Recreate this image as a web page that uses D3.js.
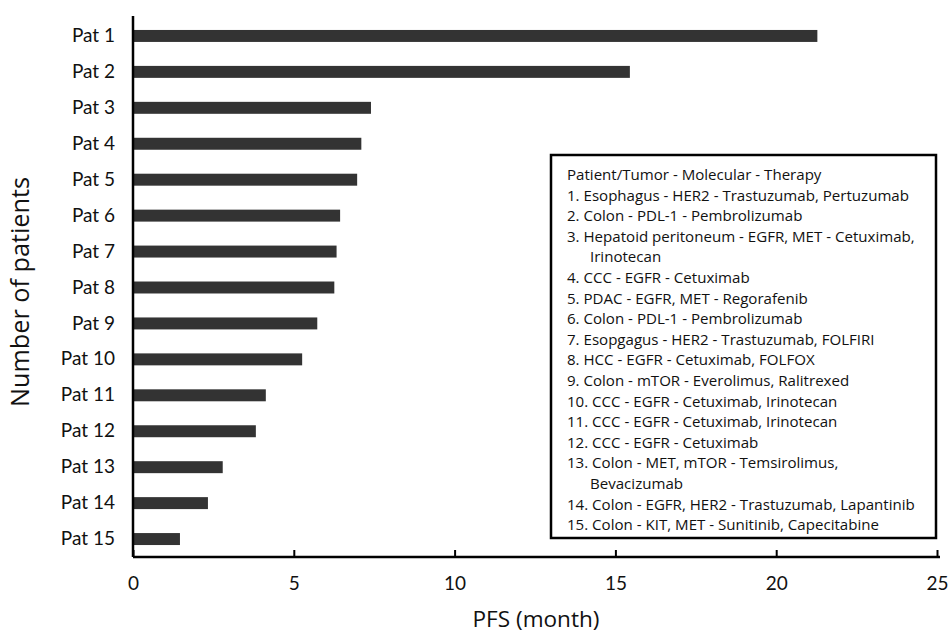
<!DOCTYPE html>
<html>
<head>
<meta charset="utf-8">
<script src="https://cdn.jsdelivr.net/npm/d3@7"></script>
<style>
  html, body { margin: 0; padding: 0; background: #fff; }
  svg { display: block; }
  text { fill: #111; }
</style>
</head>
<body>
<svg id="chart" width="951" height="633"></svg>
<script>
const patients = ["Pat 1","Pat 2","Pat 3","Pat 4","Pat 5","Pat 6","Pat 7","Pat 8","Pat 9","Pat 10","Pat 11","Pat 12","Pat 13","Pat 14","Pat 15"];
const pfs = [21.28, 15.45, 7.40, 7.10, 6.97, 6.44, 6.33, 6.26, 5.73, 5.26, 4.13, 3.82, 2.79, 2.33, 1.46];
const xTicks = [0, 5, 10, 15, 20, 25];
const legendTitle = "Patient/Tumor - Molecular - Therapy";
const legendLines = [
  ["1. Esophagus - HER2 - Trastuzumab, Pertuzumab"],
  ["2. Colon - PDL-1 - Pembrolizumab"],
  ["3. Hepatoid peritoneum - EGFR, MET - Cetuximab,", "Irinotecan"],
  ["4. CCC - EGFR - Cetuximab"],
  ["5. PDAC - EGFR, MET - Regorafenib"],
  ["6. Colon - PDL-1 - Pembrolizumab"],
  ["7. Esopgagus - HER2 - Trastuzumab, FOLFIRI"],
  ["8. HCC - EGFR - Cetuximab, FOLFOX"],
  ["9. Colon - mTOR - Everolimus, Ralitrexed"],
  ["10. CCC - EGFR - Cetuximab, Irinotecan"],
  ["11. CCC - EGFR - Cetuximab, Irinotecan"],
  ["12. CCC - EGFR - Cetuximab"],
  ["13. Colon - MET, mTOR - Temsirolimus,", "Bevacizumab"],
  ["14. Colon - EGFR, HER2 - Trastuzumab, Lapantinib"],
  ["15. Colon - KIT, MET - Sunitinib, Capecitabine"]
];
const xTitle = "PFS (month)";
const yTitle = "Number of patients";

const svg = d3.select("#chart");
const mLeft = 133, mRight = 937, mTop = 18, mBottom = 557;
const LATO = "Lato, sans-serif";
const OPEN = "'Open Sans', sans-serif";

function fitFont(sel, base, target) {
  const w = sel.node().getComputedTextLength();
  sel.style("font-size", (base * target / w) + "px");
}

const x = d3.scaleLinear().domain([0, 25]).range([mLeft, mRight]);
const y = d3.scaleBand().domain(patients).range([mTop, mBottom]).paddingInner(0.667).paddingOuter(0.333);

// bars
svg.append("g").selectAll("rect").data(patients).join("rect")
  .attr("x", x(0))
  .attr("y", d => y(d))
  .attr("width", (d, i) => x(pfs[i]) - x(0))
  .attr("height", y.bandwidth())
  .attr("fill", "#333333");

// x axis
const xAxis = d3.axisBottom(x).tickValues(xTicks).tickSizeInner(-7).tickSizeOuter(0).tickPadding(20);
const gx = svg.append("g").attr("transform", `translate(0,${mBottom})`).call(xAxis);
gx.select(".domain").attr("stroke", "#000").attr("stroke-width", 2.5).attr("d", `M${mLeft},0H${mRight + 3}`);
gx.selectAll(".tick line").attr("stroke", "#000").attr("stroke-width", 2);
gx.selectAll(".tick text").style("font-size", "19px").style("font-family", LATO).attr("fill", "#111");

// y axis
const yAxis = d3.axisLeft(y).tickSize(0).tickPadding(18);
const gy = svg.append("g").attr("transform", `translate(${mLeft},0)`).call(yAxis);
gy.select(".domain").attr("stroke", "#000").attr("stroke-width", 2.5).attr("d", `M0,${mTop - 2}V${mBottom}`);
gy.selectAll(".tick text").style("font-size", "19px").style("font-family", LATO).attr("fill", "#111");

// axis titles
const xt = svg.append("text").attr("x", 536).attr("y", 627).attr("text-anchor", "middle")
  .style("font-family", OPEN).style("font-size", "20px").text(xTitle);
fitFont(xt, 20, 127);
const yt = svg.append("text").attr("transform", "translate(29,292) rotate(-90)").attr("text-anchor", "middle")
  .style("font-family", OPEN).style("font-size", "20px").text(yTitle);
fitFont(yt, 20, 230);

// legend
const lg = svg.append("g");
lg.append("rect").attr("x", 551).attr("y", 155).attr("width", 385).attr("height", 383)
  .attr("fill", "#fff").attr("stroke", "#000").attr("stroke-width", 2.5);
const rows = [[legendTitle]].concat(legendLines);
const lx = 567, ly0 = 180, lh = 20.6;
const probe3 = lg.append("text").style("font-family", OPEN).style("font-size", "14px").text(legendLines[2][0]);
const fs = 14 * 348 / probe3.node().getComputedTextLength();
probe3.remove();
let line = 0;
rows.forEach(r => {
  r.forEach((t, j) => {
    lg.append("text").attr("x", j === 0 ? lx : lx + 23).attr("y", ly0 + line * lh)
      .style("font-family", OPEN)
      .style("font-size", fs + "px").text(t);
    line++;
  });
});
</script>
</body>
</html>
